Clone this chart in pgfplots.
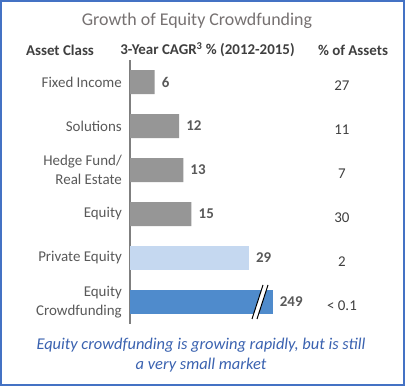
\documentclass[border=0pt]{standalone}
\usepackage{pgfplots}
\pgfplotsset{compat=1.18}
\usepackage{fontspec}
\setmainfont{Carlito}
\definecolor{framec}{HTML}{4472C4}
\definecolor{titlec}{HTML}{767171}
\definecolor{hdrc}{HTML}{3F3F3F}
\definecolor{catc}{HTML}{595959}
\definecolor{valc}{HTML}{595959}
\definecolor{axc}{HTML}{7F7F7F}
\definecolor{barg}{HTML}{969696}
\definecolor{barlb}{HTML}{C5D8F0}
\definecolor{barb}{HTML}{4F8BCC}
\definecolor{bluet}{HTML}{3A62B0}
\begin{document}
\begin{tikzpicture}[x=1bp,y=1bp]
\useasboundingbox (0,0) rectangle (405,386);
\fill[white] (0,0) rectangle (405,386);
\node[font=\fontsize{18}{22}\selectfont, text=titlec] at (197,365) {Growth of Equity Crowdfunding};
\node[font=\bfseries\fontsize{15}{18}\selectfont, text=hdrc] at (60,336) {Asset Class};
\node[font=\bfseries\fontsize{15}{18}\selectfont, text=hdrc] at (207.5,336) {3-Year CAGR\textsuperscript{3} \% (2012-2015)};
\node[font=\bfseries\fontsize{15}{18}\selectfont, text=hdrc] at (353,336) {\% of Assets};
\begin{axis}[
  at={(130bp,62bp)}, anchor=south west,
  scale only axis, width=246bp, height=264bp,
  xmin=0, xmax=60, ymin=-0.5, ymax=5.5, y dir=reverse,
  axis x line=none, axis y line*=left,
  y axis line style={draw=axc, line width=2bp},
  xtick=\empty, ytick={0,1,2,3,4,5},
  major tick length=0pt,
  yticklabels={Fixed Income, Solutions, {Hedge Fund/\\Real Estate}, Equity, Private Equity, {Equity\\Crowdfunding}},
  yticklabel style={align=right, font=\fontsize{15}{19}\selectfont, text=catc, inner sep=0pt, xshift=-8bp},
  clip=false,
]
\addplot[xbar, bar shift=0pt, bar width=24bp, fill=barg, draw=none,
  nodes near coords, point meta=explicit symbolic,
  nodes near coords style={anchor=west, inner sep=0pt, xshift=7bp, font=\bfseries\fontsize{15}{18}\selectfont, text=valc}]
  table[meta=label]{
x y label
6 0 6
12 1 12
13 2 13
15 3 15
};
\addplot[xbar, bar shift=0pt, bar width=24bp, fill=barlb, draw=none,
  nodes near coords, point meta=explicit symbolic,
  nodes near coords style={anchor=west, inner sep=0pt, xshift=7bp, font=\bfseries\fontsize{15}{18}\selectfont, text=valc}]
  table[meta=label]{
x y label
29 4 29
};
\addplot[xbar, bar shift=0pt, bar width=24bp, fill=barb, draw=none,
  nodes near coords, point meta=explicit symbolic,
  nodes near coords style={anchor=west, inner sep=0pt, xshift=7bp, font=\bfseries\fontsize{15}{18}\selectfont, text=valc}]
  table[meta=label]{
x y label
34.8 5 249
};
\addplot[draw=none, mark=none,
  nodes near coords, point meta=explicit symbolic,
  nodes near coords style={anchor=center, inner sep=0pt, yshift=-4bp, font=\fontsize{15}{18}\selectfont, text=hdrc}]
  table[meta=label, col sep=comma]{
x,y,label
51.7,0,27
51.7,1,11
51.7,2,7
51.7,3,30
51.7,4,2
51.7,5,< 0.1
};
\end{axis}
% axis break marks
\fill[white] (252,67) -- (263,101) -- (268,101) -- (257,67) -- cycle;
\draw[black, line width=1bp] (252,67) -- (263,101);
\draw[black, line width=1bp] (257,67) -- (268,101);
\node[font=\itshape\fontsize{16.5}{20}\selectfont, text=bluet, align=center] at (201,31) {Equity crowdfunding is growing rapidly, but is still\\a very small market};
\draw[framec, line width=2bp] (1,1) rectangle (404,385);
\end{tikzpicture}
\end{document}
